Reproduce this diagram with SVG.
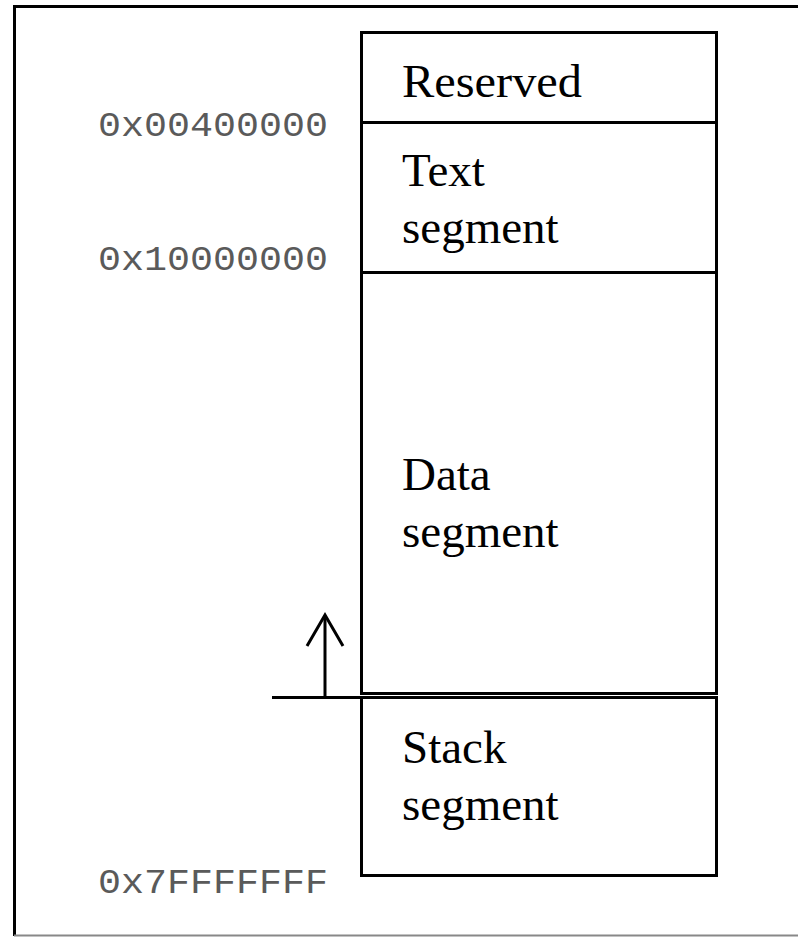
<svg xmlns="http://www.w3.org/2000/svg" width="798" height="937" viewBox="0 0 798 937">
<style>
.ln{stroke:#000;stroke-width:3;fill:none}
.seg{font-family:"Liberation Serif",serif;font-size:47px;fill:#000}
.addr{font-family:"Liberation Mono",monospace;font-size:35px;fill:#5a5a5a}
</style>
<defs/>
<rect width="798" height="937" fill="#fff"/>
<g id="frame">
<path d="M798 6.5H14.5V936" class="ln" stroke-width="2.5"/>
<line x1="14" y1="935.5" x2="798" y2="935.5" stroke="#888" stroke-width="2"/>
</g>
<g id="reserved">
<rect x="361.5" y="32.5" width="355" height="90" class="ln"/>
<text x="402" y="97" class="seg" textLength="180" lengthAdjust="spacingAndGlyphs">Reserved</text>
</g>
<g id="text-segment">
<rect x="361.5" y="122.5" width="355" height="150" class="ln"/>
<text class="seg"><tspan x="402" y="186">Text</tspan><tspan x="402" y="243">segment</tspan></text>
</g>
<g id="data-segment">
<rect x="361.5" y="272.5" width="355" height="421" class="ln"/>
<text class="seg"><tspan x="402" y="490">Data</tspan><tspan x="402" y="547">segment</tspan></text>
</g>
<g id="stack-segment">
<rect x="361.5" y="697.5" width="355" height="178" class="ln"/>
<text class="seg"><tspan x="402" y="763">Stack</tspan><tspan x="402" y="820">segment</tspan></text>
</g>
<g id="addresses">
<text x="98" y="136" class="addr" textLength="230" lengthAdjust="spacingAndGlyphs">0x00400000</text>
<text x="98" y="270" class="addr" textLength="230" lengthAdjust="spacingAndGlyphs">0x10000000</text>
<text x="98" y="893" class="addr" textLength="230" lengthAdjust="spacingAndGlyphs">0x7FFFFFFF</text>
</g>
<g id="connectors">
<line x1="272" y1="697.5" x2="361" y2="697.5" class="ln"/>
<line x1="325" y1="697" x2="325" y2="616" class="ln"/>
<polyline points="307,646 325,615 343,646" class="ln"/>
</g>
</svg>
